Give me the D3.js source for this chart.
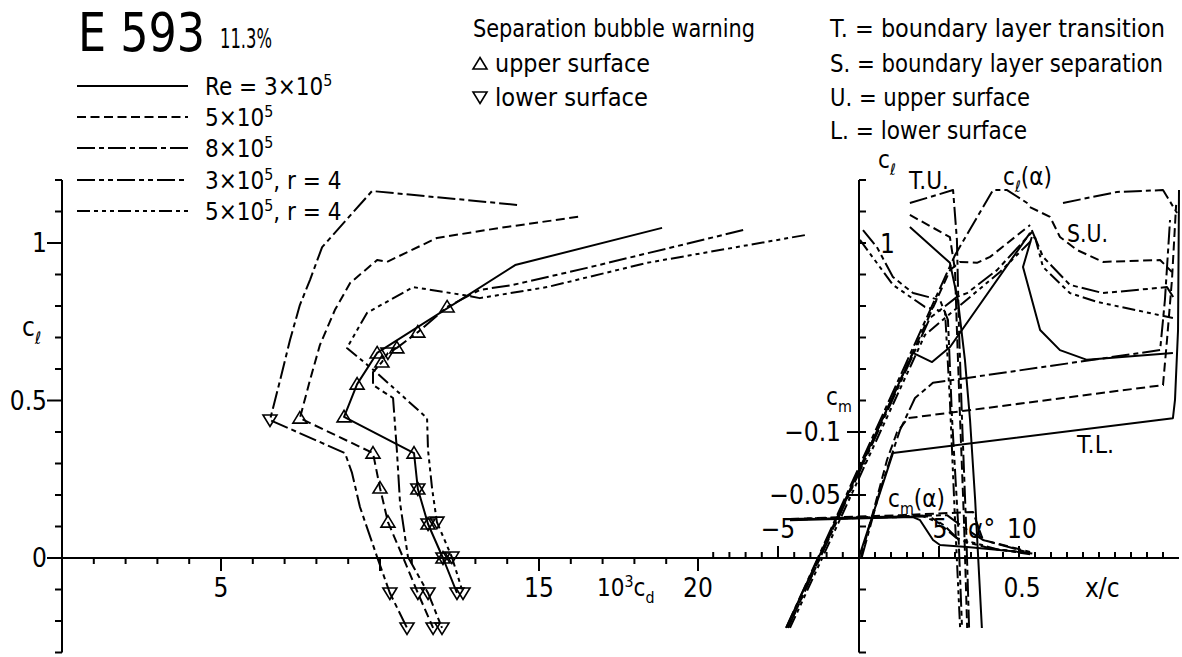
<!DOCTYPE html>
<html>
<head>
<meta charset="utf-8">
<script src="https://cdnjs.cloudflare.com/ajax/libs/d3/7.8.5/d3.min.js"></script>
<style>
body { margin: 0; background: #fff; }
svg { display: block; }
text { font-family: "DejaVu Sans Condensed", "DejaVu Sans", sans-serif; fill: #000; }
</style>
</head>
<body>
<script>
// drag polars, 10^3 cd against cl
var re3Cd = [18.87, 14.25, 9.91, 9.28, 8.87, 11.07, 11.19, 11.51, 11.98, 12.42];
var re3Cl = [1.048, 0.930, 0.651, 0.552, 0.448, 0.333, 0.219, 0.108, 0.0, -0.111];
var re3Mk = ["", "", "u", "u", "u", "u", "b", "b", "b", "d"];

var re5Cd = [16.23, 13.77, 11.79, 10.22, 9.91, 9.06, 8.58, 8.11, 7.80, 7.48, 9.78, 10.0, 10.25, 10.72, 11.19, 11.67];
var re5Cl = [1.083, 1.048, 1.016, 0.940, 0.946, 0.873, 0.787, 0.676, 0.565, 0.444, 0.333, 0.222, 0.114, 0.003, -0.111, -0.222];
var re5Mk = ["", "", "", "", "", "", "", "", "", "u", "u", "u", "u", "", "d", "d"];

var re8Cd = [14.31, 9.75, 8.18, 7.80, 7.48, 7.17, 6.86, 6.54, 8.90, 9.12, 9.37, 9.91, 10.31, 10.85];
var re8Cl = [1.121, 1.165, 0.987, 0.883, 0.803, 0.692, 0.565, 0.438, 0.333, 0.270, 0.162, 0.003, -0.111, -0.222];
var re8Mk = ["", "", "", "", "", "", "", "d", "", "", "", "", "d", "d"];

var r3Cd = [21.42, 16.51, 14.18, 13.14, 12.11, 11.19, 10.53, 10.25, 10.06, 9.78, 9.78, 10.41, 10.53, 10.63, 10.88, 11.51, 11.95];
var r3Cl = [1.041, 0.921, 0.867, 0.851, 0.797, 0.717, 0.667, 0.651, 0.622, 0.590, 0.549, 0.508, 0.343, 0.175, 0.003, -0.111, -0.222];
var r3Mk = ["", "", "", "", "u", "u", "u", "d", "u", "", "", "", "", "", "", "d", "d"];

var r5Cd = [23.36, 18.40, 15.25, 13.14, 12.61, 11.04, 9.59, 8.96, 9.91, 11.48, 11.51, 11.64, 11.79, 12.26, 12.61];
var r5Cl = [1.025, 0.937, 0.860, 0.825, 0.835, 0.860, 0.778, 0.667, 0.587, 0.444, 0.343, 0.219, 0.114, 0.003, -0.111];
var r5Mk = ["", "", "", "", "", "", "", "", "", "", "", "", "d", "d", "d"];

// lift curves, alpha in degrees
var lift3A = [-4.5, 3.33, 4.51, 5.62, 10.56], lift3Cl = [-0.222, 0.651, 0.622, 0.670, 1.032];
var lift5A = [-4.38, 5.62, 6.23, 7.28, 8.09, 10.56], lift5Cl = [-0.222, 0.914, 0.940, 0.937, 0.956, 1.057];
var lift8A = [-4.5, 5.93, 8.27, 9.14, 10.56], lift8Cl = [-0.222, 0.962, 1.168, 1.168, 1.121];
var liftR3A = [-4.38, 4.38, 6.05, 6.67, 8.52, 10.68], liftR3Cl = [-0.222, 0.762, 0.829, 0.841, 0.914, 1.035];
var liftR5A = [-4.26, 4.07, 5.31, 8.70, 10.86], liftR5Cl = [-0.222, 0.708, 0.762, 0.908, 1.019];

// moment curves
var cm3A = [-4.26, 3.33, 3.77, 4.57, 5.0, 6.67, 10.56], cm3 = [-0.030, -0.0325, -0.030, -0.0143, -0.0103, -0.0087, -0.004];
var cm5A = [-4.26, 2.53, 7.04, 7.65, 10.56], cm5 = [-0.031, -0.034, -0.0365, -0.0143, -0.0048];
var cm8A = [-4.26, 5.43, 6.42, 7.65, 10.56], cm8 = [-0.0305, -0.034, -0.0246, -0.0143, -0.004];
var cmR3A = [-4.26, 4.32, 5.25, 6.17, 8.0, 10.56], cmR3 = [-0.0305, -0.033, -0.026, -0.0143, -0.008, -0.003];
var cmR5A = [-4.26, 3.9, 4.9, 6.0, 8.5, 10.7], cmR5 = [-0.031, -0.0335, -0.028, -0.016, -0.007, -0.0035];

// upper surface transition, x/c
var tu3X = [0.159, 0.284, 0.309, 0.331, 0.347, 0.363, 0.384], tu3Cl = [1.051, 0.937, 0.819, 0.629, 0.438, 0.184, -0.222];
var tu5X = [0.159, 0.284, 0.300, 0.306, 0.316, 0.328, 0.338], tu5Cl = [1.089, 1.019, 0.914, 0.724, 0.438, 0.121, -0.222];
var tu8X = [0.159, 0.294, 0.306, 0.3125, 0.322, 0.334, 0.344], tu8Cl = [1.127, 1.168, 1.010, 0.724, 0.438, 0.121, -0.222];
var tuR3X = [0.0125, 0.056, 0.106, 0.169, 0.253, 0.278, 0.291, 0.309, 0.322], tuR3Cl = [1.041, 0.987, 0.892, 0.841, 0.819, 0.756, 0.438, 0.121, -0.222];
var tuR5X = [0.003, 0.106, 0.206, 0.269, 0.284, 0.300, 0.316], tuR5Cl = [1.010, 0.867, 0.797, 0.781, 0.502, 0.121, -0.222];

// upper surface separation
var su3X = [0.540, 0.5125, 0.566, 0.628, 0.7125, 0.981], su3Cl = [1.019, 0.924, 0.724, 0.660, 0.629, 0.651];
var su5X = [0.534, 0.597, 0.628, 0.681, 0.7625, 0.941, 0.978], su5Cl = [1.114, 1.083, 1.019, 0.978, 0.940, 0.946, 0.908];
var su8X = [0.6375, 0.806, 0.950, 0.994], su8Cl = [1.127, 1.162, 1.168, 1.095];
var suR3X = [0.540, 0.575, 0.659, 0.7625, 0.9625, 0.9875], suR3Cl = [1.041, 0.956, 0.867, 0.841, 0.860, 0.819];
var suR5X = [0.550, 0.575, 0.659, 0.744, 0.981], suR5Cl = [1.019, 0.924, 0.841, 0.813, 0.762];

// lower surface transition
var tl3X = [0.0, 0.106, 0.981, 0.9875, 0.997, 1.0], tl3Cl = [0.003, 0.333, 0.444, 0.502, 0.724, 1.168];
var tl5X = [0.006, 0.05, 0.0875, 0.119, 0.153, 0.950, 0.9625, 0.978, 0.991], tl5Cl = [0.003, 0.168, 0.311, 0.400, 0.444, 0.549, 0.692, 0.883, 1.121];
var tl8X = [0.009, 0.066, 0.128, 0.175, 0.231, 0.941, 0.956, 0.972], tl8Cl = [0.003, 0.216, 0.406, 0.508, 0.556, 0.660, 0.819, 1.073];

// tick labels
var clLabels = [0, 0.5, 1];
var cdLabels = [5, 15, 20];
var cmLabels = [-0.05, -0.1];
var alphaLabels = [-5, 5, 10];

// legend: main text, superscript, tail ; style index 0..4
var legendMain = ["Re = 3×10", "5×10", "8×10", "3×10", "5×10"];
var legendSup = ["5", "5", "5", "5", "5"];
var legendTail = ["", "", "", ", r = 4", ", r = 4"];
var legendY = [86, 117, 148, 180, 211];

var dashes = ["none", "9,4.5", "18,4,5,4", "18,4,5,4,5,4", "13,4,4,4,4,4,4,4"];

var W = 1182, H = 657;
var svg = d3.select("body").append("svg").attr("width", W).attr("height", H);

var y = d3.scaleLinear().domain([0, 1]).range([558, 243]);
var xCd = d3.scaleLinear().domain([0, 5]).range([62, 221]);
var xA = d3.scaleLinear().domain([0, 5]).range([859, 940]);
var xXc = d3.scaleLinear().domain([0, 0.5]).range([859, 1019]);
var yCm = d3.scaleLinear().domain([0, -0.1]).range([558, 432]);

function line(x1, y1, x2, y2, w) {
	svg.append("line").attr("x1", x1).attr("y1", y1).attr("x2", x2).attr("y2", y2)
		.attr("stroke", "#000").attr("stroke-width", w || 2);
}

function curve(xs, ys, sx, sy, style) {
	var pts = xs.map(function(v, i) { return [sx(v), sy(ys[i])]; });
	svg.append("path")
		.attr("d", d3.line()(pts))
		.attr("fill", "none")
		.attr("stroke", "#000")
		.attr("stroke-width", 2)
		.attr("stroke-linejoin", "round")
		.attr("stroke-dasharray", dashes[style]);
}

var triUp = "M0,-6.5L7,5L-7,5Z", triDown = "M0,6.5L7,-5L-7,-5Z";
function marks(xs, ys, mk) {
	mk.forEach(function(m, i) {
		if (!m) return;
		var t = "translate(" + xCd(xs[i]) + "," + y(ys[i]) + ")";
		if (m === "u" || m === "b") svg.append("path").attr("d", triUp).attr("transform", t)
			.attr("fill", "none").attr("stroke", "#000").attr("stroke-width", 1.6);
		if (m === "d" || m === "b") svg.append("path").attr("d", triDown).attr("transform", t)
			.attr("fill", "none").attr("stroke", "#000").attr("stroke-width", 1.6);
	});
}

function txt(x, yb, size, s, anchor, len) {
	var t = svg.append("text").attr("x", x).attr("y", yb).attr("font-size", size)
		.attr("text-anchor", anchor || "start").text(s);
	if (len) t.attr("textLength", len).attr("lengthAdjust", "spacingAndGlyphs");
	return t;
}

// parts: [text, "n"|"sup"|"sub"]
function rich(x, yb, size, parts, anchor) {
	var t = svg.append("text").attr("x", x).attr("y", yb).attr("font-size", size)
		.attr("text-anchor", anchor || "start");
	var shift = 0;
	parts.forEach(function(p) {
		var target = p[1] === "sup" ? -0.38 * size : (p[1] === "sub" ? 0.3 * size : 0);
		t.append("tspan").attr("dy", target - shift)
			.attr("font-size", p[1] === "n" ? size : size * 0.66).text(p[0]);
		shift = target;
	});
	return t;
}

// ---- left axes ----
line(xCd(0), y(1.2), xCd(0), y(-0.3));
d3.range(-3, 13).forEach(function(i) {
	var v = i / 10, major = clLabels.indexOf(v) >= 0;
	line(xCd(0) - (major ? 15 : 7), y(v), xCd(0), y(v));
});
clLabels.forEach(function(v) {
	txt(xCd(0) - 15, y(v) + 9, 26, String(v), "end");
});
rich(22, 336, 26, [["c", "n"], ["ℓ", "sub"]]);

// baseline shared by both panels
line(xCd(0), y(0), xXc(1), y(0));
d3.range(1, 21).forEach(function(v) {
	var major = v % 5 === 0;
	line(xCd(v), y(0), xCd(v), y(0) + (major ? 13 : 6));
});
cdLabels.forEach(function(v) {
	txt(xCd(v), 597, 26, String(v), "middle");
});
rich(597, 596, 24, [["10", "n"], ["3", "sup"], ["c", "n"], ["d", "sub"]]);

// ---- right axes ----
line(xA(0), y(1.2), xA(0), y(-0.3));
d3.range(-3, 13).forEach(function(i) {
	line(xA(0), y(i / 10), xA(0) + 7, y(i / 10));
});
cmLabels.forEach(function(v) {
	line(xA(0) - 12, yCm(v), xA(0), yCm(v));
	txt(xA(0) - 18, yCm(v) + 9, 26, "−" + String(-v), "end");
});
d3.range(-9, 0).forEach(function(v) {
	line(xA(v), y(0), xA(v), y(0) - (v === -5 ? 12 : 6));
});
d3.range(1, 20).forEach(function(i) {
	var v = i * 0.05, major = (i === 5 || i === 10);
	line(xXc(v), y(0), xXc(v), y(0) - (major ? 12 : 6));
});
txt(xA(alphaLabels[0]), 538, 26, "−5", "middle");
txt(xA(alphaLabels[1]), 538, 26, "5", "middle");
rich(968, 538, 26, [["α", "n"], ["°", "n"]]);
txt(xA(alphaLabels[2]) + 1, 538, 26, "10", "middle");
txt(xXc(0.5) + 3, 597, 26, "0.5", "middle");
txt(1085, 597, 26, "x/c");
rich(826, 405, 24, [["c", "n"], ["m", "sub"]]);
rich(878, 168, 24, [["c", "n"], ["ℓ", "sub"]]);
txt(880, 253, 26, "1");
txt(909, 189, 24, "T.U.", "start", 40);
rich(1003, 185, 24, [["c", "n"], ["ℓ", "sub"], ["(α)", "n"]]);
txt(1067, 242, 24, "S.U.", "start", 41);
txt(1077, 453, 24, "T.L.", "start", 37);
rich(888, 507, 24, [["c", "n"], ["m", "sub"], ["(α)", "n"]]);

// ---- polars ----
var polars = [
	[re3Cd, re3Cl, re3Mk, 0],
	[re5Cd, re5Cl, re5Mk, 1],
	[re8Cd, re8Cl, re8Mk, 2],
	[r3Cd, r3Cl, r3Mk, 3],
	[r5Cd, r5Cl, r5Mk, 4]
];
polars.forEach(function(p) { curve(p[0], p[1], xCd, y, p[3]); });
polars.forEach(function(p) { marks(p[0], p[1], p[2]); });

// ---- right panel curves ----
[[lift3A, lift3Cl, 0], [lift5A, lift5Cl, 1], [lift8A, lift8Cl, 2], [liftR3A, liftR3Cl, 3], [liftR5A, liftR5Cl, 4]]
	.forEach(function(c) { curve(c[0], c[1], xA, y, c[2]); });
[[cm3A, cm3, 0], [cm5A, cm5, 1], [cm8A, cm8, 2], [cmR3A, cmR3, 3], [cmR5A, cmR5, 4]]
	.forEach(function(c) { curve(c[0], c[1], xA, yCm, c[2]); });
[[tu3X, tu3Cl, 0], [tu5X, tu5Cl, 1], [tu8X, tu8Cl, 2], [tuR3X, tuR3Cl, 3], [tuR5X, tuR5Cl, 4],
 [su3X, su3Cl, 0], [su5X, su5Cl, 1], [su8X, su8Cl, 2], [suR3X, suR3Cl, 3], [suR5X, suR5Cl, 4],
 [tl3X, tl3Cl, 0], [tl5X, tl5Cl, 1], [tl8X, tl8Cl, 2]]
	.forEach(function(c) { curve(c[0], c[1], xXc, y, c[2]); });

// ---- title and legends ----
txt(78, 51, 54, "E 593", "start", 127).attr("font-weight", 300);
txt(220, 48, 27, "11.3%", "start", 52);

legendMain.forEach(function(m, i) {
	svg.append("line").attr("x1", 77).attr("x2", 188).attr("y1", legendY[i]).attr("y2", legendY[i])
		.attr("stroke", "#000").attr("stroke-width", 2).attr("stroke-dasharray", dashes[i]);
	var parts = [[m, "n"], [legendSup[i], "sup"]];
	if (legendTail[i]) parts.push([legendTail[i], "n"]);
	rich(205, legendY[i] + 9, 24, parts);
});

txt(473, 37, 25, "Separation bubble warning", "start", 282);
svg.append("path").attr("d", triUp).attr("transform", "translate(480,64)")
	.attr("fill", "none").attr("stroke", "#000").attr("stroke-width", 1.6);
svg.append("path").attr("d", triDown).attr("transform", "translate(480,97)")
	.attr("fill", "none").attr("stroke", "#000").attr("stroke-width", 1.6);
txt(495, 72, 25, "upper surface", "start", 155);
txt(495, 106, 25, "lower surface", "start", 153);

txt(830, 37, 25, "T. = boundary layer transition", "start", 335);
txt(830, 72, 25, "S. = boundary layer separation", "start", 333);
txt(830, 106, 25, "U. = upper surface", "start", 200);
txt(830, 139, 25, "L. = lower surface", "start", 197);
</script>
</body>
</html>
